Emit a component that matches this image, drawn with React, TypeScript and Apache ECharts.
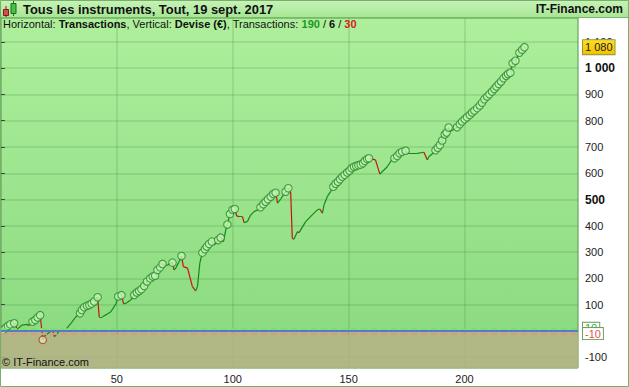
import React, { useEffect, useRef } from "react";
import * as echarts from "echarts";

const FONT = '"Liberation Sans", Arial, Helvetica, sans-serif';

const TITLE = "Tous les instruments, Tout, 19 sept. 2017";
const BRAND = "IT-Finance.com";
const COPYRIGHT = "© IT-Finance.com";
const winCount = 190;
const flatCount = 6;
const lossCount = 30;

// [transaction index, equity (€), marker: h = new high, l = low, "" = none]
const equity: [number, number, string][] = [
  [0, 0, ""], [1, 4, "h"], [2, 11, "h"], [3, 19, "h"], [4, 25, "h"], [5.7, 29, "h"],
  [6.5, 29, ""], [6.7, 5, ""], [9, 22, ""], [11.5, 25, ""], [11.8, 20, ""],
  [13.6, 35, "h"], [14.8, 42, "h"], [15.8, 51, "h"], [16.9, 60, "h"], [17.4, 20, ""],
  [18, -34, "l"], [18.7, -19, ""], [22.3, 4, ""], [23, -22, ""], [25.6, 3, ""],
  [26.6, -3, ""], [28, 6, ""], [30.2, 29, ""], [32.3, 54, ""],
  [34.1, 67, "h"], [34.9, 80, "h"], [35.9, 90, "h"], [37.1, 96, "h"], [38.1, 99, "h"],
  [39.1, 104, "h"], [40.2, 112, "h"], [41.7, 128, "h"], [42.4, 53, ""], [43.8, 54, ""],
  [46, 65, ""], [47.4, 73, ""], [49.6, 103, ""], [50.6, 131, "h"], [52, 136, "h"],
  [52.9, 103, ""], [53.9, 105, ""], [56, 118, ""], [57.5, 137, "h"], [58.6, 146, "h"],
  [59.6, 152, "h"], [60.6, 159, "h"], [61.8, 171, "h"], [63, 188, "h"], [64.4, 200, "h"],
  [65.5, 207, "h"], [66.5, 210, "h"], [67.5, 232, "h"], [68.7, 242, "h"], [69.7, 255, "h"],
  [70.8, 247, ""], [71.8, 251, ""], [74, 260, "h"], [74.7, 232, ""], [75.4, 239, ""],
  [76.9, 264, ""], [77.9, 285, "h"], [78.7, 245, ""], [80.5, 239, ""], [82.6, 169, ""],
  [84, 152, ""], [84.8, 169, ""], [85.8, 258, ""], [86.9, 298, "h"], [88, 311, "h"],
  [88.8, 321, "h"], [89.8, 331, "h"], [91, 340, "h"], [92, 327, ""], [93.7, 346, "h"],
  [94.8, 355, "h"], [96, 340, ""], [97, 384, ""], [97.7, 405, "h"], [98.8, 445, "h"],
  [99.9, 461, "h"], [100.9, 464, "h"], [101.7, 438, ""], [102.7, 435, ""], [104.2, 435, ""],
  [104.9, 412, ""], [106.3, 416, ""], [107.8, 442, ""], [109.2, 454, ""], [111.3, 463, ""],
  [112, 471, "h"], [113.2, 482, "h"], [114.2, 492, "h"], [115.2, 501, "h"], [116.4, 511, "h"],
  [117.5, 521, "h"], [118.5, 526, "h"], [119, 505, ""], [119.3, 486, ""], [120.7, 502, ""],
  [122.8, 530, "h"], [124, 543, "h"], [125, 530, ""], [125.7, 353, ""], [126.4, 349, ""],
  [127.9, 378, ""], [128.6, 374, ""], [131.5, 416, ""], [134.3, 442, ""], [136.5, 461, ""],
  [137.6, 464, ""], [138.7, 448, ""], [139.4, 480, ""], [140.8, 511, ""], [142.2, 530, ""],
  [143.4, 549, "h"], [144.4, 560, "h"], [145.4, 568, "h"], [146.3, 577, "h"], [147.3, 587, "h"],
  [148.3, 594, "h"], [149.4, 603, "h"], [150.4, 610, "h"], [151.3, 619, "h"], [152.3, 625, "h"],
  [153.3, 628, "h"], [154.2, 631, "h"], [155.2, 633, "h"], [156.2, 638, "h"], [157, 647, "h"],
  [158, 654, "h"], [158.8, 657, "h"], [161.6, 651, ""], [163.5, 597, ""], [164.5, 606, ""],
  [166.7, 625, ""], [168.8, 654, ""], [169.8, 657, "h"], [171, 666, "h"], [172, 676, "h"],
  [173.1, 682, "h"], [174.6, 686, "h"], [175.3, 676, ""], [179.6, 676, ""], [182.5, 680, ""],
  [184, 651, ""], [184.6, 663, ""], [186.8, 679, ""], [187.5, 688, "h"], [188.5, 697, "h"],
  [189.4, 708, "h"], [190.4, 725, "h"], [191.5, 748, "h"], [192.3, 755, "h"], [193.2, 774, "h"],
  [193.7, 759, ""], [195, 765, ""], [196.8, 775, "h"], [198, 787, "h"], [199, 797, "h"],
  [200.1, 806, "h"], [201.1, 813, "h"], [202.3, 822, "h"], [203.3, 831, "h"], [204.3, 839, "h"],
  [205.5, 848, "h"], [206.6, 858, "h"], [207.6, 869, "h"], [208.6, 882, "h"], [209.8, 892, "h"],
  [210.8, 901, "h"], [211.9, 911, "h"], [212.9, 921, "h"], [213.8, 930, "h"], [214.8, 940, "h"],
  [215.8, 949, "h"], [216.9, 962, "h"], [218, 971, "h"], [218.8, 978, "h"], [219.8, 983, "h"],
  [220.8, 1019, "h"], [222, 1028, "h"], [223.7, 1059, "h"], [224.9, 1070, "h"], [225.9, 1080, "h"],
];

const boldTicks = [500, 1000];
const upperLevel = 10;
const zeroLevel = 0;
const lowerLevel = -10;
const lastValue = 1080;
const xRange = [0, 249];
const yRange = [-141, 1191];

const LINE_UP = "#148a14";
const LINE_DOWN = "#cc1111";

function fmtNum(v: number): string {
  const s = String(Math.round(v));
  return s.replace(/\B(?=(\d{3})+(?!\d))/g, " ");
}

export default function App() {
  const ref = useRef<HTMLDivElement>(null);

  useEffect(() => {
    document.body.style.margin = "0";
    if (!ref.current) return;
    const chart = echarts.init(ref.current, undefined, { renderer: "svg" });

    const segments = [];
    for (let i = 0; i < equity.length - 1; i++) {
      const a = equity[i];
      const b = equity[i + 1];
      segments.push({
        coords: [
          [a[0], a[1]],
          [b[0], b[1]],
        ],
        lineStyle: { color: b[1] >= a[1] ? LINE_UP : LINE_DOWN },
      });
    }

    const markers = equity
      .filter((p) => p[2] !== "")
      .map((p) => ({
        value: [p[0], p[1]],
        itemStyle: {
          color: "#c4f2b6",
          borderColor: p[2] === "l" ? "#cc2020" : "#268c26",
          borderWidth: 1.1,
        },
      }));

    const boxLabel = (text: string, color: string) => ({
      show: true,
      position: "end",
      distance: 5,
      formatter: text,
      color,
      fontFamily: FONT,
      fontSize: 11,
      lineHeight: 11,
      backgroundColor: "#ffffff",
      borderColor: "#6f9f62",
      borderWidth: 1,
      padding: [0, 2, 0, 2],
    });

    const txt = { fontFamily: FONT, fontSize: 11, lineHeight: 12 };

    const option: any = {
      animation: false,
      backgroundColor: "#ffffff",
      textStyle: { fontFamily: FONT },
      title: {
        left: 3,
        top: 18,
        padding: 0,
        z: 20,
        text:
          "{n|Horizontal: }{b|Transactions}{n|, Vertical: }{b|Devise (€)}{n|, Transactions: }" +
          `{g|${winCount}}{n| / }{k|${flatCount}}{n| / }{r|${lossCount}}`,
        textStyle: {
          ...txt,
          fontWeight: "normal",
          color: "#111",
          rich: {
            n: { ...txt, fontWeight: "normal", color: "#111" },
            b: { ...txt, fontWeight: "bold", color: "#111" },
            g: { ...txt, fontWeight: "bold", color: "#1e9a1e" },
            k: { ...txt, fontWeight: "bold", color: "#111" },
            r: { ...txt, fontWeight: "bold", color: "#d42020" },
          },
        },
      },
      grid: {
        left: 1,
        top: 18,
        right: 51,
        bottom: 19,
        show: true,
        backgroundColor: new echarts.graphic.LinearGradient(0, 0, 0, 1, [
          { offset: 0, color: "#aeef9c" },
          { offset: 1, color: "#88d97e" },
        ]),
        borderColor: "#74b066",
        borderWidth: 1,
      },
      xAxis: {
        type: "value",
        min: xRange[0],
        max: xRange[1],
        splitNumber: 5,
        axisLine: { show: false },
        axisTick: { show: true, length: 4, lineStyle: { color: "#444" } },
        axisLabel: {
          color: "#222",
          fontFamily: FONT,
          fontSize: 11,
          margin: 5,
          showMinLabel: false,
          showMaxLabel: false,
        },
        splitLine: { show: true, lineStyle: { color: "rgba(40,120,40,0.14)", width: 2 } },
      },
      yAxis: {
        type: "value",
        position: "right",
        min: yRange[0],
        max: yRange[1],
        splitNumber: 13,
        axisLine: { show: false },
        axisTick: { show: true, length: 4, lineStyle: { color: "#444" } },
        axisLabel: {
          color: "#222",
          fontFamily: FONT,
          fontSize: 11,
          margin: 7,
          showMinLabel: false,
          showMaxLabel: false,
          formatter: (v: number) => {
            const s = fmtNum(v);
            return boldTicks.includes(Math.round(v)) ? `{b|${s}}` : s;
          },
          rich: { b: { fontWeight: "bold", fontSize: 12, color: "#111", fontFamily: FONT } },
        },
        splitLine: { show: true, lineStyle: { color: "rgba(40,120,40,0.14)", width: 2 } },
      },
      series: [
        {
          type: "line",
          data: [],
          z: 1,
          silent: true,
          markArea: {
            silent: true,
            itemStyle: { color: "rgba(186,176,136,0.82)" },
            data: [[{ yAxis: zeroLevel }, { yAxis: yRange[0] }]],
          },
          markLine: {
            silent: true,
            symbol: ["none", "none"],
            data: [
              {
                yAxis: upperLevel,
                lineStyle: { color: "#72e272", type: [6, 4], width: 2 },
                label: boxLabel(String(upperLevel), "#2fb52f"),
              },
              {
                yAxis: zeroLevel,
                lineStyle: { color: "#5b78c4", type: "solid", width: 2 },
                label: { show: false },
              },
              {
                yAxis: lowerLevel,
                lineStyle: { color: "#d49c86", type: [6, 4], width: 2 },
                label: boxLabel(String(lowerLevel), "#e05252"),
              },
              {
                yAxis: lastValue,
                lineStyle: { color: "rgba(0,0,0,0)", width: 1 },
                label: {
                  show: true,
                  position: "end",
                  distance: 5,
                  formatter: fmtNum(lastValue),
                  color: "#222",
                  fontFamily: FONT,
                  fontSize: 11,
                  lineHeight: 12,
                  backgroundColor: new echarts.graphic.LinearGradient(0, 0, 0, 1, [
                    { offset: 0, color: "#ffdd22" },
                    { offset: 1, color: "#f2c200" },
                  ]),
                  borderColor: "#8f9a3a",
                  borderWidth: 1,
                  padding: [1, 2, 1, 2],
                },
              },
            ],
          },
        },
        {
          type: "lines",
          coordinateSystem: "cartesian2d",
          z: 2,
          silent: true,
          lineStyle: { width: 1.2, opacity: 1 },
          data: segments,
        },
        {
          type: "scatter",
          z: 3,
          silent: true,
          symbol: "circle",
          symbolSize: 7.5,
          data: markers,
        },
      ],
      graphic: [
        {
          type: "rect",
          z: 100,
          shape: { x: 0, y: 0, width: 629, height: 17 },
          style: {
            fill: new echarts.graphic.LinearGradient(0, 0, 0, 1, [
              { offset: 0, color: "#c8f3b8" },
              { offset: 1, color: "#a8e696" },
            ]),
          },
        },
        {
          type: "line",
          z: 101,
          shape: { x1: 0, y1: 17.5, x2: 629, y2: 17.5 },
          style: { stroke: "#7cb86c", lineWidth: 1 },
        },
        // candle icon
        { type: "line", z: 102, shape: { x1: 6, y1: 6, x2: 6, y2: 17 }, style: { stroke: "#7a1f1f", lineWidth: 1 } },
        { type: "rect", z: 103, shape: { x: 3.5, y: 9.5, width: 5, height: 6 }, style: { fill: "#e04848", stroke: "#7a1f1f", lineWidth: 1 } },
        { type: "line", z: 102, shape: { x1: 13.5, y1: 1, x2: 13.5, y2: 16 }, style: { stroke: "#1f6a1f", lineWidth: 1 } },
        { type: "rect", z: 103, shape: { x: 11, y: 3.5, width: 5, height: 10 }, style: { fill: "#44c444", stroke: "#1f6a1f", lineWidth: 1 } },
        {
          type: "text",
          z: 102,
          x: 23,
          y: 9,
          style: {
            text: TITLE,
            fill: "#111",
            font: `bold 12.9px ${FONT}`,
            verticalAlign: "middle",
          },
        },
        {
          type: "text",
          z: 102,
          x: 623,
          y: 9,
          style: {
            text: BRAND,
            fill: "#111",
            font: `bold 12px ${FONT}`,
            align: "right",
            verticalAlign: "middle",
          },
        },
        {
          type: "text",
          z: 102,
          x: 2,
          y: 362,
          style: {
            text: COPYRIGHT,
            fill: "#111",
            font: `11px ${FONT}`,
            verticalAlign: "middle",
          },
        },
        {
          type: "rect",
          z: 110,
          shape: { x: 0.5, y: 0.5, width: 628, height: 386 },
          style: { fill: "none", stroke: "#78b06a", lineWidth: 1 },
        },
      ],
    };

    chart.setOption(option);
    return () => chart.dispose();
  }, []);

  return <div ref={ref} style={{ width: 629, height: 387 }} />;
}
